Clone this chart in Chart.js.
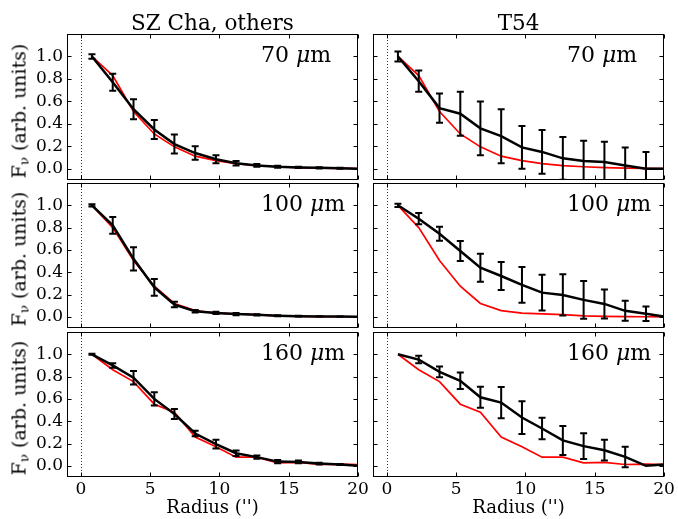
<!DOCTYPE html>
<html>
<head>
<meta charset="utf-8">
<script src="https://cdn.jsdelivr.net/npm/chart.js@4.4.0/dist/chart.umd.min.js"></script>
<style>
body { margin: 0; background: #fff; width: 678px; height: 519px; position: relative; overflow: hidden; font-family: "DejaVu Serif", serif; }
canvas { position: absolute; }
.txt { position: absolute; white-space: nowrap; line-height: 1; color: #000; }
.txt sub { font-size: 70%; vertical-align: -0.25em; line-height: 0; }
</style>
</head>
<body>
<script>
// annulus radii (arcsec)
const radius = [0.8, 2.3, 3.8, 5.3, 6.75, 8.25, 9.75, 11.2, 12.7, 14.2, 15.7, 17.2, 18.7, 20.2];
const xTicks = [0, 5, 10, 15, 20];
const yTicks = [0, 0.2, 0.4, 0.6, 0.8, 1.0];
const columns = ['SZ Cha, others', 'T54'];
const bands = ['70', '100', '160'];

// PSF profiles (red) - same in both columns
const psf70  = [1.0, 0.83, 0.51, 0.31, 0.195, 0.112, 0.072, 0.045, 0.028, 0.018, 0.011, 0.006, 0.003, 0.0];
const psf100 = [1.0, 0.80, 0.505, 0.275, 0.12, 0.056, 0.034, 0.027, 0.02, 0.008, 0.004, 0.002, 0.001, 0.0];
const psf160 = [1.0, 0.862, 0.755, 0.553, 0.48, 0.259, 0.172, 0.078, 0.078, 0.027, 0.031, 0.012, 0.016, 0.01];

// SZ Cha + others (black, with errors)
const sz70     = [1.0, 0.77, 0.53, 0.35, 0.22, 0.14, 0.085, 0.05, 0.03, 0.018, 0.012, 0.008, 0.005, 0.0];
const sz70Err  = [0.02, 0.075, 0.09, 0.085, 0.085, 0.06, 0.035, 0.02, 0.012, 0.008, 0.006, 0.005, 0.005, 0.005];
const sz100    = [1.0, 0.82, 0.52, 0.265, 0.11, 0.05, 0.035, 0.025, 0.018, 0.01, 0.006, 0.004, 0.002, 0.0];
const sz100Err = [0.01, 0.075, 0.105, 0.075, 0.025, 0.012, 0.01, 0.01, 0.006, 0.004, 0.003, 0.002, 0.002, 0.002];
const sz160    = [1.0, 0.9, 0.79, 0.6, 0.465, 0.29, 0.195, 0.113, 0.078, 0.038, 0.035, 0.02, 0.012, 0.0];
const sz160Err = [0.005, 0.02, 0.06, 0.06, 0.045, 0.025, 0.04, 0.025, 0.015, 0.015, 0.012, 0.008, 0.005, 0.005];

// T54
const t54_70     = [1.0, 0.78, 0.54, 0.49, 0.36, 0.29, 0.19, 0.15, 0.093, 0.07, 0.06, 0.03, 0.0, 0.0];
const t54_70Err  = [0.045, 0.095, 0.13, 0.195, 0.24, 0.24, 0.19, 0.195, 0.19, 0.18, 0.18, 0.16, 0.15, 0.15];
const t54_100    = [1.0, 0.88, 0.745, 0.59, 0.44, 0.366, 0.286, 0.217, 0.196, 0.152, 0.116, 0.054, 0.027, 0.0];
const t54_100Err = [0.015, 0.05, 0.063, 0.09, 0.125, 0.125, 0.16, 0.16, 0.185, 0.17, 0.13, 0.09, 0.065, 0.05];
const t54_160    = [1.0, 0.953, 0.842, 0.762, 0.615, 0.567, 0.433, 0.335, 0.228, 0.177, 0.14, 0.08, 0.0, 0.014];
const t54_160Err = [0, 0.033, 0.048, 0.074, 0.095, 0.141, 0.147, 0.096, 0.13, 0.115, 0.093, 0.092, 0, 0];

const rows = [
  [[sz70, sz70Err, psf70], [t54_70, t54_70Err, psf70]],
  [[sz100, sz100Err, psf100], [t54_100, t54_100Err, psf100]],
  [[sz160, sz160Err, psf160], [t54_160, t54_160Err, psf160]]
];

// layout
const plotLeft = [67, 373], plotW = 291;
const plotTop = [34, 183, 332], plotH = [146, 145, 145];
const PAD = 8, RPAD = 16, YW = 50, XH = 42;
const font = { family: "'DejaVu Serif', serif", size: 17 };

function addText(html, left, top, size, extra) {
  const d = document.createElement('div');
  d.className = 'txt';
  d.innerHTML = html;
  d.style.left = left + 'px';
  d.style.top = top + 'px';
  d.style.fontSize = size + 'px';
  if (extra) Object.assign(d.style, extra);
  document.body.appendChild(d);
  return d;
}

const boxPlugin = {
  id: 'box',
  beforeDatasetsDraw(chart) {
    const { ctx, chartArea: a, scales: { x } } = chart;
    const px = Math.round(x.getPixelForValue(0)) + 0.5;
    ctx.save();
    ctx.strokeStyle = '#333';
    ctx.lineWidth = 1;
    ctx.setLineDash([1, 2]);
    ctx.beginPath();
    ctx.moveTo(px, a.top);
    ctx.lineTo(px, a.bottom);
    ctx.stroke();
    ctx.restore();
  },
  afterDatasetsDraw(chart) {
    const { ctx, chartArea: a, scales: { x, y } } = chart;
    // error bars
    ctx.save();
    ctx.beginPath();
    ctx.rect(a.left, a.top, a.right - a.left, a.bottom - a.top);
    ctx.clip();
    ctx.strokeStyle = '#000';
    ctx.lineWidth = 2;
    chart.data.datasets.forEach(ds => {
      if (!ds.yErr) return;
      ds.data.forEach((p, i) => {
        const e = ds.yErr[i];
        if (!e) return;
        const cx = x.getPixelForValue(p.x);
        const t = y.getPixelForValue(p.y + e);
        const b = y.getPixelForValue(p.y - e);
        ctx.beginPath();
        ctx.moveTo(cx, t); ctx.lineTo(cx, b);
        ctx.moveTo(cx - 3.5, t); ctx.lineTo(cx + 3.5, t);
        ctx.moveTo(cx - 3.5, b); ctx.lineTo(cx + 3.5, b);
        ctx.stroke();
      });
    });
    ctx.restore();
    // frame and inward ticks
    ctx.save();
    ctx.strokeStyle = '#000';
    ctx.lineWidth = 1;
    const L = Math.round(a.left) + 0.5, R = Math.round(a.right) - 0.5;
    const T = Math.round(a.top) + 0.5, B = Math.round(a.bottom) - 0.5;
    ctx.strokeRect(L, T, R - L, B - T);
    ctx.beginPath();
    xTicks.forEach(v => {
      const px = Math.round(x.getPixelForValue(v)) + 0.5;
      ctx.moveTo(px, T); ctx.lineTo(px, T + 4);
      ctx.moveTo(px, B); ctx.lineTo(px, B - 4);
    });
    yTicks.forEach(v => {
      const py = Math.round(y.getPixelForValue(v)) + 0.5;
      ctx.moveTo(L, py); ctx.lineTo(L + 4, py);
      ctx.moveTo(R, py); ctx.lineTo(R - 4, py);
    });
    ctx.stroke();
    ctx.restore();
  }
};

const pts = vals => radius.map((r, i) => ({ x: r, y: vals[i] }));

rows.forEach((row, r) => {
  const bottomRow = r === rows.length - 1;
  row.forEach(([vals, err, psf], c) => {
    const cv = document.createElement('canvas');
    const w = YW + plotW + RPAD;
    const h = PAD + plotH[r] + (bottomRow ? XH : PAD);
    cv.width = w; cv.height = h;
    cv.style.left = (plotLeft[c] - YW) + 'px';
    cv.style.top = (plotTop[r] - PAD) + 'px';
    cv.style.width = w + 'px'; cv.style.height = h + 'px';
    document.body.appendChild(cv);

    const xScale = {
      type: 'linear', min: -1, max: 20, display: bottomRow,
      afterBuildTicks: s => { s.ticks = xTicks.map(v => ({ value: v })); },
      afterFit: s => {
        s.paddingLeft = 0; s.paddingRight = 0;
        if (bottomRow) s.height = XH;
      },
      grid: { display: false, drawTicks: false },
      border: { display: false },
      ticks: { font, color: '#000', padding: 2, maxRotation: 0, autoSkip: false },
      title: { display: true, text: "Radius ('')", font: { family: font.family, size: 18 }, color: '#000', padding: 0 }
    };

    const chart = new Chart(cv, {
      type: 'line',
      data: {
        datasets: [
          { data: pts(vals), yErr: err, borderColor: '#000', borderWidth: 2.5, pointRadius: 0, tension: 0 },
          { data: pts(psf), borderColor: '#ff0000', borderWidth: 1.7, pointRadius: 0, tension: 0 }
        ]
      },
      options: {
        responsive: false, animation: false, devicePixelRatio: 1,
        layout: { padding: { left: 0, top: PAD, right: RPAD, bottom: bottomRow ? 0 : PAD } },
        plugins: { legend: { display: false }, tooltip: { enabled: false } },
        scales: {
          x: xScale,
          y: {
            min: -0.1, max: 1.2,
            afterBuildTicks: s => { s.ticks = yTicks.map(v => ({ value: v })); },
            afterFit: s => { s.width = YW; s.paddingTop = 0; s.paddingBottom = 0; },
            grid: { display: false, drawTicks: false },
            border: { display: false },
            ticks: { display: c === 0, font, color: '#000', padding: 4, callback: v => v.toFixed(1) }
          }
        }
      },
      plugins: [boxPlugin]
    });

    // band label at (13, 1.0) in data units
    const lx = plotLeft[c] - YW + chart.scales.x.getPixelForValue(13);
    const ly = plotTop[r] - PAD + chart.scales.y.getPixelForValue(1.0);
    addText(bands[r] + ' <i>μ</i>m', lx, ly + 6.5 - 0.846 * 22, 22);

    if (c === 0) {
      addText('F<sub>ν</sub> (arb. units)', 19, plotTop[r] + plotH[r] / 2 + 3.5, 19,
        { transform: 'translate(-50%, -50%) rotate(-90deg)' });
    }
  });
});

columns.forEach((t, c) => {
  addText(t, plotLeft[c] + plotW / 2, 30 - 0.846 * 21.5, 21.5, { transform: 'translateX(-50%)' });
});
</script>
</body>
</html>
